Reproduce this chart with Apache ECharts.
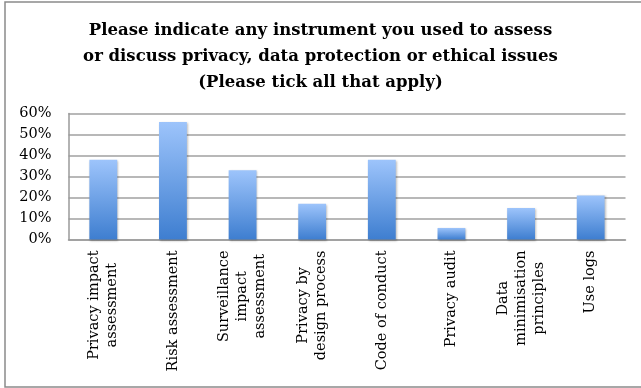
<!DOCTYPE html>
<html>
<head>
<meta charset="utf-8">
<script src="https://cdn.jsdelivr.net/npm/echarts@6/dist/echarts.min.js"></script>
<style>
  html, body { margin: 0; padding: 0; background: #fff; }
  #chart { width: 641px; height: 388px; }
</style>
</head>
<body>
<div id="chart"></div>
<script>
// Survey responses: instruments used to assess privacy / ethics issues
const categories = [
  'Privacy impact\nassessment',
  'Risk assessment',
  'Surveillance\nimpact\nassessment',
  'Privacy by\ndesign process',
  'Code of conduct',
  'Privacy audit',
  'Data\nminimisation\nprinciples',
  'Use logs'
];
const shares = [38, 56, 33, 17, 38, 5.5, 15, 21];
const tickValues = [0, 10, 20, 30, 40, 50, 60];

const titleText = 'Please indicate any instrument you used to assess\n' +
  'or discuss privacy, data protection or ethical issues\n' +
  '(Please tick all that apply)';

const serif = '"DejaVu Serif", "Liberation Serif", serif';

const chart = echarts.init(document.getElementById('chart'), null, { renderer: 'canvas' });

chart.setOption({
  animation: false,
  backgroundColor: '#fff',
  graphic: [{
    type: 'rect',
    shape: { x: 5, y: 2, width: 660, height: 385 },
    style: { fill: 'none', stroke: '#8a8a8a', lineWidth: 1.5 },
    silent: true
  }],
  title: {
    text: titleText,
    left: 'center',
    top: 13,
    textStyle: {
      fontFamily: serif,
      fontWeight: 'bold',
      fontSize: 16.5,
      lineHeight: 26,
      color: '#000'
    }
  },
  grid: {
    left: 68.5,
    right: 15.5,
    top: 113.5,
    height: 126,
    containLabel: false
  },
  xAxis: {
    type: 'category',
    data: categories,
    axisLine: { lineStyle: { color: '#9a9a9a', width: 1.5 } },
    axisTick: { show: false },
    axisLabel: {
      rotate: 90,
      interval: 0,
      margin: 11,
      fontFamily: serif,
      fontSize: 14.5,
      lineHeight: 18,
      color: '#000',
      formatter: function (v) {
        return v.split('\n').map(function (s) { return '{c|' + s + '}'; }).join('\n');
      },
      rich: {
        c: { align: 'center', fontFamily: serif, fontSize: 14.5, lineHeight: 18, color: '#000' }
      }
    }
  },
  yAxis: {
    type: 'value',
    min: tickValues[0],
    max: tickValues[tickValues.length - 1],
    interval: 10,
    axisLine: { show: true, lineStyle: { color: '#9a9a9a', width: 1.5 } },
    axisTick: { show: false },
    splitLine: { lineStyle: { color: '#a0a0a0', width: 1.5 } },
    axisLabel: {
      margin: 17,
      fontFamily: serif,
      fontSize: 14.5,
      color: '#000',
      formatter: '{value}%'
    }
  },
  series: [{
    type: 'bar',
    data: shares,
    barWidth: '40%',
    itemStyle: {
      color: new echarts.graphic.LinearGradient(0, 0, 0, 1, [
        { offset: 0, color: '#9dc4fb' },
        { offset: 1, color: '#3e7ed0' }
      ]),
      shadowColor: 'rgba(0,0,0,0.25)',
      shadowBlur: 2,
      shadowOffsetX: 1,
      shadowOffsetY: 1
    }
  }]
});
</script>
</body>
</html>
